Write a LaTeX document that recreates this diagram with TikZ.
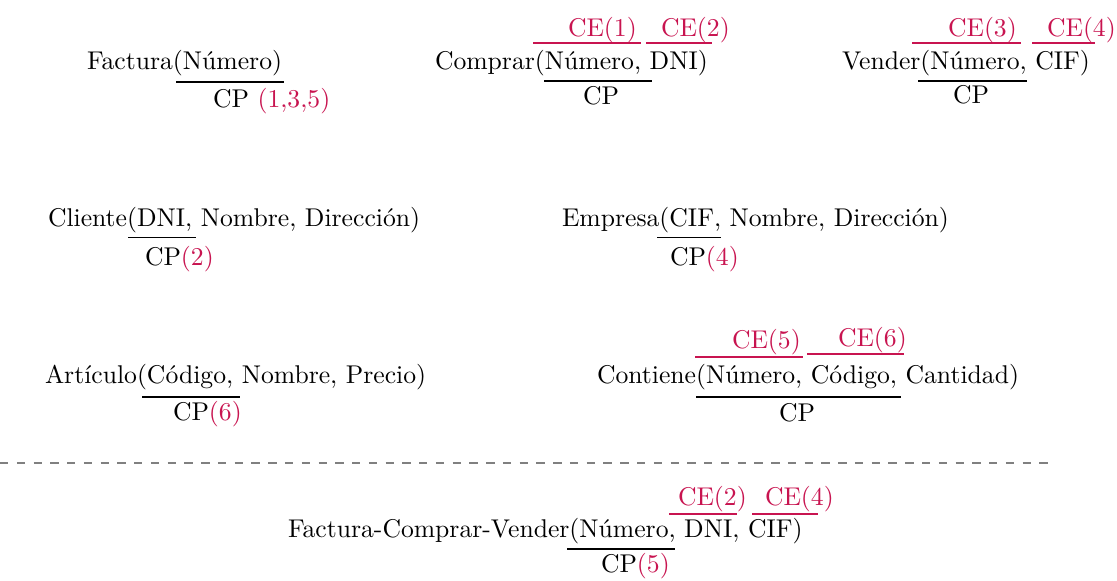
\documentclass[tikz,border=0pt]{standalone}
\usepackage{xcolor}
\definecolor{ce}{RGB}{200,20,80}
\begin{document}
\begin{tikzpicture}[x=0.3937pt, y=-0.3937pt,
  every node/.style={inner sep=0pt, outer sep=0pt, anchor=base west, font=\fontsize{10.1}{12}\selectfont},
  bar/.style={line width=0.75pt},
  cebar/.style={draw=ce, line width=0.75pt},
  celabel/.style={text=ce},
  sep/.style={draw=gray, line width=0.5pt, dash pattern=on 3.3pt off 3.3pt}]
\useasboundingbox (0,0) rectangle (1117,581);
% Row 1
\node (fac) at (87,69) {Factura(Número)};
\node (faccp) at (213,107) {CP \textcolor{ce}{(1,3,5)}};
\draw[bar] (176,82) -- (284,82);

\node (com) at (435,69) {Comprar(Número, DNI)};
\node[celabel] (comce1) at (568,36) {CE(1)};
\node[celabel] (comce2) at (661,36) {CE(2)};
\draw[cebar] (533,43) -- (641,43);
\draw[cebar] (646,43) -- (712,43);
\draw[bar] (544,81) -- (652,81);
\node (comcp) at (583,104) {CP};

\node (ven) at (842,69) {Vender(Número, CIF)};
\node[celabel] (vence3) at (948,36) {CE(3)};
\node[celabel] (vence4) at (1047,36) {CE(4)};
\draw[cebar] (912,43) -- (1021,43);
\draw[cebar] (1032,43) -- (1095,43);
\draw[bar] (918,81) -- (1027,81);
\node (vencp) at (953,103) {CP};

% Row 2
\node (cli) at (48,226) {Cliente(DNI, Nombre, Dirección)};
\draw[bar] (128,237.5) -- (196,237.5);
\node (clicp) at (145,265) {CP\textcolor{ce}{(2)}};

\node (emp) at (562,226) {Empresa(CIF, Nombre, Dirección)};
\draw[bar] (657,237.5) -- (721,237.5);
\node (empcp) at (670,265) {CP\textcolor{ce}{(4)}};

% Row 3
\node (art) at (45,383) {Artículo(Código, Nombre, Precio)};
\draw[bar] (142,397) -- (240,397);
\node (artcp) at (173,420) {CP\textcolor{ce}{(6)}};

\node (con) at (597,383) {Contiene(Número, Código, Cantidad)};
\node[celabel] (conce5) at (732,348) {CE(5)};
\node[celabel] (conce6) at (838,346) {CE(6)};
\draw[cebar] (695,357) -- (803,357);
\draw[cebar] (807,354) -- (904,354);
\draw[bar] (696,397) -- (901,397);
\node (concp) at (779,421) {CP};

% Separator
\draw[sep] (0,463) -- (1050,463);

% Row 4
\node (fcv) at (288,537) {Factura-Comprar-Vender(Número, DNI, CIF)};
\node[celabel] (fcvce2) at (678,505) {CE(2)};
\node[celabel] (fcvce4) at (765,505) {CE(4)};
\draw[cebar] (669,514) -- (737,514);
\draw[cebar] (752,514) -- (818,514);
\draw[bar] (567,549) -- (675,549);
\node (fcvcp) at (601,572) {CP\textcolor{ce}{(5)}};
\end{tikzpicture}
\end{document}
